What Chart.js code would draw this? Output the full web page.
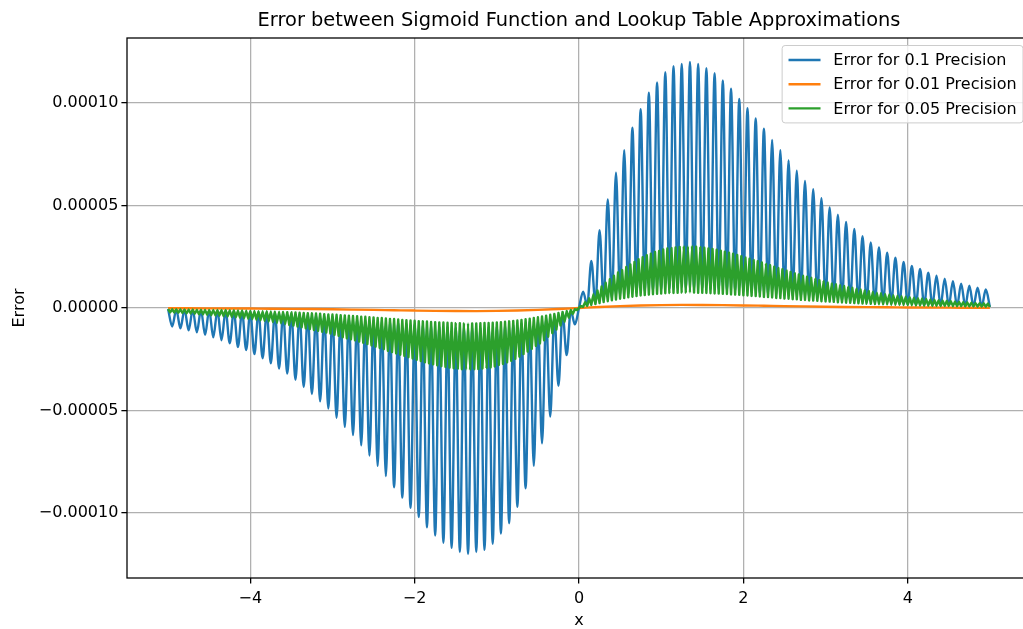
<!DOCTYPE html>
<html>
<head>
<meta charset="utf-8">
<script src="https://cdn.jsdelivr.net/npm/chart.js@4.4.1/dist/chart.umd.min.js"></script>
<style>
  html, body { margin: 0; padding: 0; background: #fff; overflow: hidden; width: 1023px; height: 629px; }
  canvas { display: block; }
</style>
</head>
<body>
<canvas id="c" width="1032" height="629" style="width:1032px;height:629px"></canvas>
<script>
// ---------- data (error values are in units of 1e-5) ----------
const ERROR_UNIT = 1e-5;

const chartTitle = 'Error between Sigmoid Function and Lookup Table Approximations';
const seriesLabels = ['Error for 0.1 Precision', 'Error for 0.01 Precision', 'Error for 0.05 Precision'];
const seriesColors = ['#1f77b4', '#ff7f0e', '#2ca02c'];

const xTickValues = [-4, -2, 0, 2, 4];
const yTickValues = [-0.0001, -0.00005, 0, 0.00005, 0.0001];

// x positions every 0.05 (blue series, green troughs)
const xStep05 = [
  -5,-4.95,-4.9,-4.85,-4.8,-4.75,-4.7,-4.65,-4.6,-4.55,-4.5,-4.45,-4.4,-4.35,-4.3,-4.25,-4.2,-4.15,-4.1,-4.05,
  -4,-3.95,-3.9,-3.85,-3.8,-3.75,-3.7,-3.65,-3.6,-3.55,-3.5,-3.45,-3.4,-3.35,-3.3,-3.25,-3.2,-3.15,-3.1,-3.05,
  -3,-2.95,-2.9,-2.85,-2.8,-2.75,-2.7,-2.65,-2.6,-2.55,-2.5,-2.45,-2.4,-2.35,-2.3,-2.25,-2.2,-2.15,-2.1,-2.05,
  -2,-1.95,-1.9,-1.85,-1.8,-1.75,-1.7,-1.65,-1.6,-1.55,-1.5,-1.45,-1.4,-1.35,-1.3,-1.25,-1.2,-1.15,-1.1,-1.05,
  -1,-0.95,-0.9,-0.85,-0.8,-0.75,-0.7,-0.65,-0.6,-0.55,-0.5,-0.45,-0.4,-0.35,-0.3,-0.25,-0.2,-0.15,-0.1,-0.05,
  0,0.05,0.1,0.15,0.2,0.25,0.3,0.35,0.4,0.45,0.5,0.55,0.6,0.65,0.7,0.75,0.8,0.85,0.9,0.95,
  1,1.05,1.1,1.15,1.2,1.25,1.3,1.35,1.4,1.45,1.5,1.55,1.6,1.65,1.7,1.75,1.8,1.85,1.9,1.95,
  2,2.05,2.1,2.15,2.2,2.25,2.3,2.35,2.4,2.45,2.5,2.55,2.6,2.65,2.7,2.75,2.8,2.85,2.9,2.95,
  3,3.05,3.1,3.15,3.2,3.25,3.3,3.35,3.4,3.45,3.5,3.55,3.6,3.65,3.7,3.75,3.8,3.85,3.9,3.95,
  4,4.05,4.1,4.15,4.2,4.25,4.3,4.35,4.4,4.45,4.5,4.55,4.6,4.65,4.7,4.75,4.8,4.85,4.9,4.95,
  5
];

// x positions of green peaks (midway between troughs)
const xMid025 = [
  -4.975,-4.925,-4.875,-4.825,-4.775,-4.725,-4.675,-4.625,-4.575,-4.525,-4.475,-4.425,-4.375,-4.325,-4.275,-4.225,-4.175,-4.125,-4.075,-4.025,
  -3.975,-3.925,-3.875,-3.825,-3.775,-3.725,-3.675,-3.625,-3.575,-3.525,-3.475,-3.425,-3.375,-3.325,-3.275,-3.225,-3.175,-3.125,-3.075,-3.025,
  -2.975,-2.925,-2.875,-2.825,-2.775,-2.725,-2.675,-2.625,-2.575,-2.525,-2.475,-2.425,-2.375,-2.325,-2.275,-2.225,-2.175,-2.125,-2.075,-2.025,
  -1.975,-1.925,-1.875,-1.825,-1.775,-1.725,-1.675,-1.625,-1.575,-1.525,-1.475,-1.425,-1.375,-1.325,-1.275,-1.225,-1.175,-1.125,-1.075,-1.025,
  -0.975,-0.925,-0.875,-0.825,-0.775,-0.725,-0.675,-0.625,-0.575,-0.525,-0.475,-0.425,-0.375,-0.325,-0.275,-0.225,-0.175,-0.125,-0.075,-0.025,
  0.025,0.075,0.125,0.175,0.225,0.275,0.325,0.375,0.425,0.475,0.525,0.575,0.625,0.675,0.725,0.775,0.825,0.875,0.925,0.975,
  1.025,1.075,1.125,1.175,1.225,1.275,1.325,1.375,1.425,1.475,1.525,1.575,1.625,1.675,1.725,1.775,1.825,1.875,1.925,1.975,
  2.025,2.075,2.125,2.175,2.225,2.275,2.325,2.375,2.425,2.475,2.525,2.575,2.625,2.675,2.725,2.775,2.825,2.875,2.925,2.975,
  3.025,3.075,3.125,3.175,3.225,3.275,3.325,3.375,3.425,3.475,3.525,3.575,3.625,3.675,3.725,3.775,3.825,3.875,3.925,3.975,
  4.025,4.075,4.125,4.175,4.225,4.275,4.325,4.375,4.425,4.475,4.525,4.575,4.625,4.675,4.725,4.775,4.825,4.875,4.925,4.975
];

// x positions every 0.25 (orange series)
const xStep25 = [
  -5,-4.75,-4.5,-4.25,-4,-3.75,-3.5,-3.25,-3,-2.75,-2.5,-2.25,-2,-1.75,-1.5,-1.25,-1,-0.75,-0.5,-0.25,
  0,0.25,0.5,0.75,1,1.25,1.5,1.75,2,2.25,2.5,2.75,3,3.25,3.5,3.75,4,4.25,4.5,4.75,5
];

// Error for 0.1 precision (on xStep05): alternating grid-point / mid-cell values
const blueErrorE5 = [
  -0.05,-0.9,-0.08,-0.99,-0.08,-1.09,-0.09,-1.19,-0.1,-1.31,-0.11,-1.43,-0.12,-1.57,-0.13,-1.72,-0.14,-1.9,-0.16,-2.05,
  -0.17,-2.25,-0.19,-2.45,-0.21,-2.7,-0.23,-2.95,-0.25,-3.2,-0.27,-3.5,-0.29,-3.85,-0.32,-4.2,-0.35,-4.55,-0.38,-4.9,
  -0.41,-5.35,-0.45,-5.8,-0.48,-6.2,-0.52,-6.7,-0.56,-7.2,-0.6,-7.7,-0.64,-8.2,-0.68,-8.75,-0.72,-9.25,-0.76,-9.75,
  -0.8,-10.2,-0.84,-10.7,-0.87,-11.1,-0.9,-11.45,-0.92,-11.7,-0.94,-11.9,-0.96,-12.0,-0.96,-11.9,-0.95,-11.8,-0.93,-11.5,
  -0.9,-11.0,-0.86,-10.5,-0.81,-9.7,-0.74,-8.8,-0.66,-7.7,-0.57,-6.6,-0.47,-5.3,-0.36,-3.8,-0.24,-2.3,-0.12,-0.8,
  0,
  0.8,0.12,2.3,0.24,3.8,0.36,5.3,0.47,6.6,0.57,7.7,0.66,8.8,0.74,9.7,0.81,10.5,0.86,11.0,0.9,
  11.5,0.93,11.8,0.95,11.9,0.96,12.0,0.96,11.9,0.94,11.7,0.92,11.45,0.9,11.1,0.87,10.7,0.84,10.2,0.8,
  9.75,0.76,9.25,0.72,8.75,0.68,8.2,0.64,7.7,0.6,7.2,0.56,6.7,0.52,6.2,0.48,5.8,0.45,5.35,0.41,
  4.9,0.38,4.55,0.35,4.2,0.32,3.85,0.29,3.5,0.27,3.2,0.25,2.95,0.23,2.7,0.21,2.45,0.19,2.25,0.17,
  2.05,0.16,1.9,0.14,1.72,0.13,1.57,0.12,1.43,0.11,1.31,0.1,1.19,0.09,1.09,0.08,0.99,0.08,0.9,0.05
];

// Error for 0.01 precision (on xStep25)
const orangeErrorE5 = [
  -0.01,-0.013,-0.017,-0.021,-0.027,-0.033,-0.042,-0.052,-0.064,-0.078,-0.093,-0.109,-0.125,-0.139,-0.148,-0.15,-0.142,-0.122,-0.09,-0.048,
  0,
  0.048,0.09,0.122,0.142,0.15,0.148,0.139,0.125,0.109,0.093,0.078,0.064,0.052,0.042,0.033,0.027,0.021,0.017,0.013,0.01
];

// Error for 0.05 precision: troughs (on xStep05) and peaks (on xMid025)
const greenTroughE5 = [
  -0.05,-0.06,-0.06,-0.06,-0.07,-0.07,-0.07,-0.08,-0.08,-0.08,-0.09,-0.09,-0.09,-0.1,-0.1,-0.11,-0.11,-0.12,-0.12,-0.13,
  -0.14,-0.14,-0.15,-0.15,-0.16,-0.17,-0.18,-0.18,-0.19,-0.2,-0.21,-0.22,-0.23,-0.24,-0.25,-0.26,-0.27,-0.28,-0.3,-0.31,
  -0.32,-0.33,-0.35,-0.36,-0.37,-0.39,-0.4,-0.42,-0.43,-0.45,-0.46,-0.48,-0.49,-0.51,-0.53,-0.54,-0.56,-0.58,-0.59,-0.61,
  -0.62,-0.64,-0.65,-0.66,-0.68,-0.69,-0.7,-0.71,-0.72,-0.73,-0.74,-0.74,-0.75,-0.75,-0.75,-0.75,-0.74,-0.73,-0.73,-0.72,
  -0.7,-0.69,-0.67,-0.65,-0.63,-0.61,-0.58,-0.55,-0.52,-0.48,-0.45,-0.41,-0.37,-0.33,-0.29,-0.24,-0.19,-0.15,-0.1,-0.05,
  0,
  0.05,0.1,0.15,0.19,0.24,0.29,0.33,0.37,0.41,0.45,0.48,0.52,0.55,0.58,0.61,0.63,0.65,0.67,0.69,0.7,
  0.72,0.73,0.73,0.74,0.75,0.75,0.75,0.75,0.74,0.74,0.73,0.72,0.71,0.7,0.69,0.68,0.66,0.65,0.64,0.62,
  0.61,0.59,0.58,0.56,0.54,0.53,0.51,0.49,0.48,0.46,0.45,0.43,0.42,0.4,0.39,0.37,0.36,0.35,0.33,0.32,
  0.31,0.3,0.28,0.27,0.26,0.25,0.24,0.23,0.22,0.21,0.2,0.19,0.18,0.18,0.17,0.16,0.15,0.15,0.14,0.14,
  0.13,0.12,0.12,0.11,0.11,0.1,0.1,0.09,0.09,0.09,0.08,0.08,0.08,0.07,0.07,0.07,0.06,0.06,0.06,0.05
];
const greenPeakE5 = [
  -0.22,-0.23,-0.24,-0.25,-0.27,-0.28,-0.29,-0.31,-0.32,-0.34,-0.35,-0.37,-0.38,-0.4,-0.42,-0.44,-0.46,-0.48,-0.5,-0.53,
  -0.55,-0.58,-0.6,-0.63,-0.66,-0.69,-0.73,-0.75,-0.79,-0.83,-0.86,-0.9,-0.94,-0.99,-1.03,-1.08,-1.11,-1.16,-1.2,-1.25,
  -1.31,-1.36,-1.43,-1.48,-1.53,-1.58,-1.64,-1.7,-1.76,-1.83,-1.89,-1.95,-2.01,-2.09,-2.15,-2.22,-2.28,-2.34,-2.4,-2.46,
  -2.53,-2.59,-2.65,-2.7,-2.75,-2.8,-2.84,-2.88,-2.91,-2.94,-2.96,-2.99,-3.0,-3.0,-2.99,-2.98,-2.95,-2.93,-2.9,-2.85,
  -2.78,-2.73,-2.65,-2.58,-2.48,-2.38,-2.25,-2.13,-2.0,-1.85,-1.73,-1.58,-1.4,-1.23,-1.05,-0.85,-0.68,-0.48,-0.3,-0.1,
  0.1,0.3,0.48,0.68,0.85,1.05,1.23,1.4,1.58,1.73,1.85,2.0,2.13,2.25,2.38,2.48,2.58,2.65,2.73,2.78,
  2.85,2.9,2.93,2.95,2.98,2.99,3.0,3.0,2.99,2.96,2.94,2.91,2.88,2.84,2.8,2.75,2.7,2.65,2.59,2.53,
  2.46,2.4,2.34,2.28,2.22,2.15,2.09,2.01,1.95,1.89,1.83,1.76,1.7,1.64,1.58,1.53,1.48,1.43,1.36,1.31,
  1.25,1.2,1.16,1.11,1.08,1.03,0.99,0.94,0.9,0.86,0.83,0.79,0.75,0.73,0.69,0.66,0.63,0.6,0.58,0.55,
  0.53,0.5,0.48,0.46,0.44,0.42,0.4,0.38,0.37,0.35,0.34,0.32,0.31,0.29,0.28,0.27,0.25,0.24,0.23,0.22
];

// ---------- build point tables ----------
function toPoints(xs, ys) {
  return xs.map((x, i) => ({ x: x, y: ys[i] * ERROR_UNIT }));
}
const bluePoints = toPoints(xStep05, blueErrorE5);
const orangePoints = toPoints(xStep25, orangeErrorE5);
const greenPoints = [];
for (let i = 0; i < xStep05.length; i++) {
  greenPoints.push({ x: xStep05[i], y: greenTroughE5[i] * ERROR_UNIT });
  if (i < xMid025.length) greenPoints.push({ x: xMid025[i], y: greenPeakE5[i] * ERROR_UNIT });
}

const FONT = "'DejaVu Sans', 'Liberation Sans', sans-serif";
const LW = 2.4;

const minusFmt = s => s.replace('-', '\u2212');

const frameTitleLegend = {
  id: 'frameTitleLegend',
  afterDraw(chart) {
    const ctx = chart.ctx;
    const a = chart.chartArea;
    ctx.save();
    // axes frame (spines)
    ctx.strokeStyle = '#000';
    ctx.lineWidth = 1.28;
    ctx.strokeRect(a.left, a.top, a.right - a.left, a.bottom - a.top);

    // title centred over the axes
    ctx.font = '19.4px ' + FONT;
    ctx.fillStyle = '#000';
    ctx.textAlign = 'center';
    ctx.textBaseline = 'middle';
    ctx.fillText(chartTitle, (a.left + a.right) / 2, 20.5);

    // legend (upper right, inside axes)
    const fs = 16;
    ctx.font = fs + 'px ' + FONT;
    const pad = 0.4 * fs, handle = 2 * fs, textPad = 0.8 * fs, spacing = 0.5 * fs, rowH = 16.2;
    let tw = 0;
    seriesLabels.forEach(t => { tw = Math.max(tw, ctx.measureText(t).width); });
    const w = pad * 2 + handle + textPad + tw;
    const h = pad * 2 + rowH * 3 + spacing * 2;
    const right = a.right - 8, top = a.top + 7.5;
    const left = right - w;
    const r = 3;
    ctx.beginPath();
    ctx.moveTo(left + r, top);
    ctx.lineTo(right - r, top);
    ctx.quadraticCurveTo(right, top, right, top + r);
    ctx.lineTo(right, top + h - r);
    ctx.quadraticCurveTo(right, top + h, right - r, top + h);
    ctx.lineTo(left + r, top + h);
    ctx.quadraticCurveTo(left, top + h, left, top + h - r);
    ctx.lineTo(left, top + r);
    ctx.quadraticCurveTo(left, top, left + r, top);
    ctx.closePath();
    ctx.fillStyle = 'rgba(255,255,255,0.8)';
    ctx.fill();
    ctx.strokeStyle = '#cccccc';
    ctx.lineWidth = 1;
    ctx.stroke();
    ctx.textBaseline = 'middle';
    ctx.textAlign = 'left';
    seriesLabels.forEach((t, i) => {
      const cy = top + pad + rowH / 2 + i * (rowH + spacing);
      ctx.strokeStyle = seriesColors[i];
      ctx.lineWidth = LW;
      ctx.beginPath();
      ctx.moveTo(left + pad, cy);
      ctx.lineTo(left + pad + handle, cy);
      ctx.stroke();
      ctx.fillStyle = '#000';
      ctx.fillText(t, left + pad + handle + textPad, cy + 1);
    });
    ctx.restore();
  }
};

new Chart(document.getElementById('c'), {
  type: 'line',
  data: {
    datasets: [
      { label: seriesLabels[0], data: bluePoints, borderColor: seriesColors[0], borderWidth: LW,
        pointRadius: 0, fill: false, cubicInterpolationMode: 'monotone', order: 3 },
      { label: seriesLabels[1], data: orangePoints, borderColor: seriesColors[1], borderWidth: LW,
        pointRadius: 0, fill: false, cubicInterpolationMode: 'monotone', order: 2 },
      { label: seriesLabels[2], data: greenPoints, borderColor: seriesColors[2], borderWidth: LW,
        pointRadius: 0, fill: false, tension: 0.02, borderJoinStyle: 'round', order: 1 }
    ]
  },
  options: {
    responsive: false,
    animation: false,
    events: [],
    devicePixelRatio: 1,
    parsing: false,
    layout: { padding: { left: 0, right: 1, top: 38, bottom: 0 } },
    plugins: {
      legend: { display: false },
      tooltip: { enabled: false },
      title: { display: false }
    },
    scales: {
      x: {
        type: 'linear',
        min: -5.5, max: 5.5,
        afterFit(s) { s.height = 51; },
        afterBuildTicks(s) { s.ticks = xTickValues.map(v => ({ value: v })); },
        ticks: {
          color: '#000', font: { family: FONT, size: 16 }, padding: 5.5, maxRotation: 0,
          callback: v => minusFmt(String(v))
        },
        grid: { color: '#b0b0b0', lineWidth: 1.28, tickLength: 5.6, tickColor: '#000', tickWidth: 1.28 },
        border: { display: false },
        title: { display: true, text: 'x', color: '#000', font: { family: FONT, size: 16, lineHeight: 1.0 },
                 padding: { top: 0, bottom: 0 } }
      },
      y: {
        type: 'linear',
        min: -0.0001317, max: 0.0001317,
        afterFit(s) { s.width = 127; },
        afterBuildTicks(s) { s.ticks = yTickValues.map(v => ({ value: v })); },
        ticks: {
          color: '#000', font: { family: FONT, size: 16 }, padding: 3,
          callback: v => (Math.abs(v) < 1e-12 ? '0.00000' : minusFmt(v.toFixed(5)))
        },
        grid: { color: '#b0b0b0', lineWidth: 1.28, tickLength: 5.6, tickColor: '#000', tickWidth: 1.28 },
        border: { display: false },
        title: { display: true, text: 'Error', color: '#000', font: { family: FONT, size: 16, lineHeight: 1.2 },
                 padding: { top: 10.4, bottom: 0 } }
      }
    }
  },
  plugins: [frameTitleLegend]
});
</script>
</body>
</html>
